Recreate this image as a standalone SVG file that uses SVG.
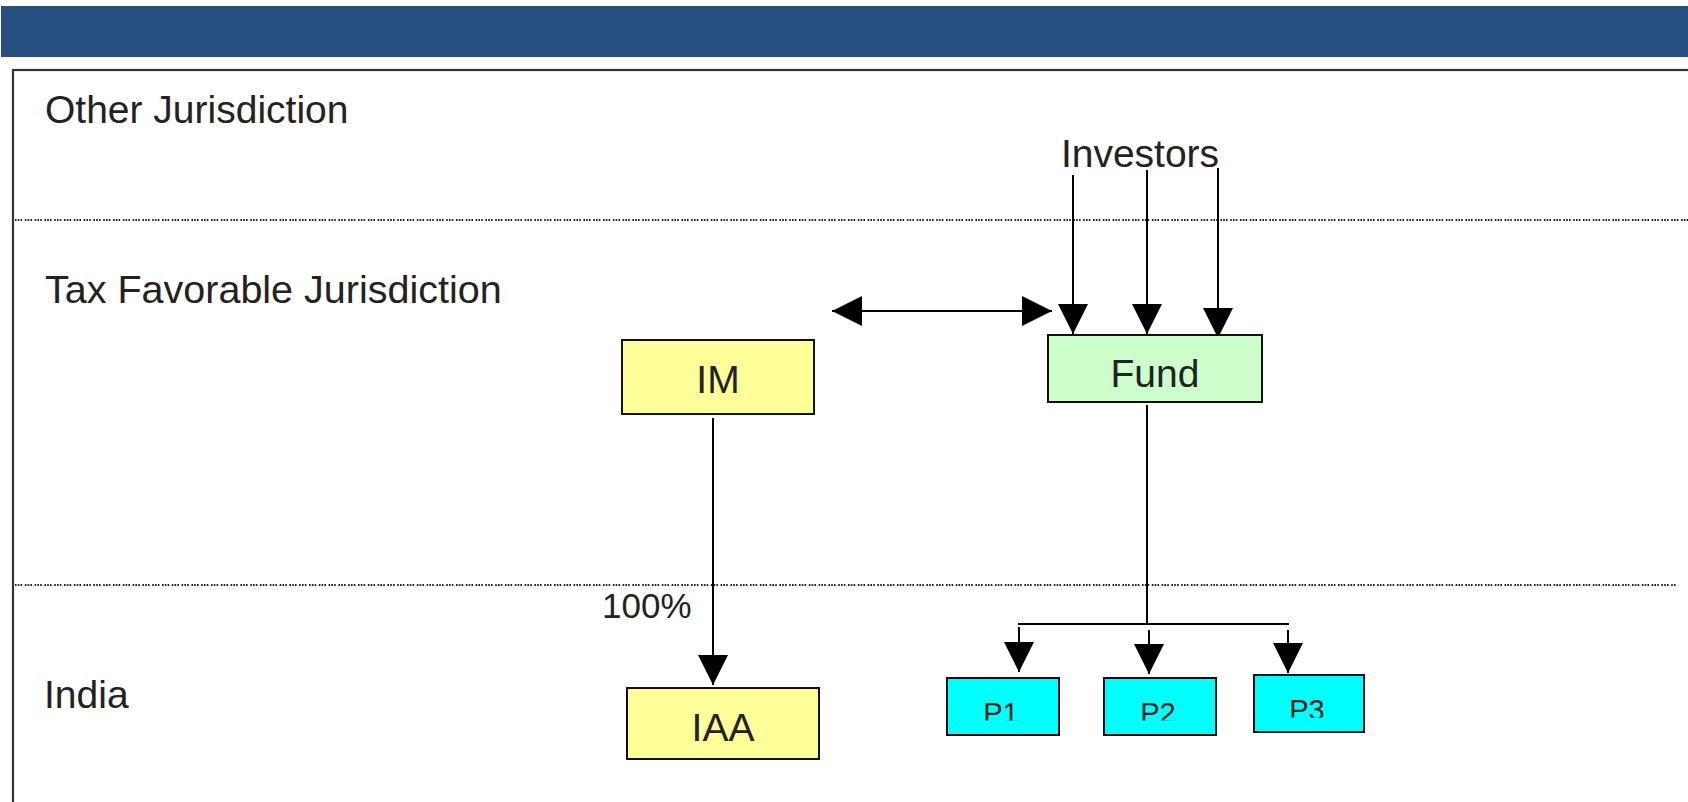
<svg xmlns="http://www.w3.org/2000/svg" width="1688" height="802" viewBox="0 0 1688 802">
<style>
.lbl{font-family:"Liberation Sans",Arial,sans-serif;font-size:39px;fill:#222}
.ctr{text-anchor:middle}
.box{stroke:#111;stroke-width:2}
.yel{fill:#FFFF99}
.grn{fill:#CCFFCC}
.cyan{fill:#00FFFF}
.conn{stroke:#000;stroke-width:2;fill:none}
.arr{marker-end:url(#ah)}
.dot{stroke:#222;stroke-width:2;stroke-dasharray:1.6 1.2 1.6 1.2 1.6 2.6;fill:none}
.plbl{font-family:"Liberation Sans",Arial,sans-serif;font-size:29px;fill:#222;text-anchor:middle}
</style>
<defs>
<marker id="ah" markerUnits="userSpaceOnUse" markerWidth="30" markerHeight="30" viewBox="0 0 30 30" refX="30" refY="15" orient="auto-start-reverse">
<path d="M0,0 L30,15 L0,30 z" fill="#000"/>
</marker>
<clipPath id="cp12"><rect x="900" y="676" width="360" height="44.5"/></clipPath>
<clipPath id="cp3"><rect x="1250" y="673" width="120" height="44.5"/></clipPath>
</defs>
<rect id="header" x="1" y="6" width="1690" height="51" fill="#274F80"/>
<rect id="frame" x="13" y="70" width="1700" height="800" fill="#fff" stroke="#333" stroke-width="2.2"/>
<g id="bands">
<line class="dot" x1="15" y1="220" x2="1688" y2="220"/>
<line class="dot" x1="15" y1="585" x2="1676" y2="585"/>
<text class="lbl" x="45" y="123">Other Jurisdiction</text>
<text class="lbl" x="45" y="303" style="font-size:39.5px">Tax Favorable Jurisdiction</text>
<text class="lbl" x="44" y="708">India</text>
</g>
<g id="connectors">
<line class="conn arr" x1="1073" y1="175" x2="1073" y2="334"/>
<line class="conn arr" x1="1147" y1="170" x2="1147" y2="334"/>
<line class="conn arr" x1="1218" y1="168" x2="1218" y2="338"/>
<line class="conn" x1="832" y1="311" x2="1052" y2="311" marker-start="url(#ah)" marker-end="url(#ah)"/>
<line class="conn arr" x1="713" y1="418" x2="713" y2="685"/>
<line class="conn" x1="1147" y1="405" x2="1147" y2="624"/>
<line class="conn" x1="1018" y1="624" x2="1289" y2="624"/>
<line class="conn arr" x1="1019" y1="627" x2="1019" y2="672"/>
<line class="conn arr" x1="1149" y1="630" x2="1149" y2="674"/>
<line class="conn arr" x1="1288" y1="630" x2="1288" y2="673"/>
<text class="lbl" x="602" y="618" style="font-size:35px">100%</text>
</g>
<g id="investors">
<text class="lbl ctr" x="1140" y="167">Investors</text>
</g>
<g id="im">
<rect class="box yel" x="622" y="340" width="192" height="74"/>
<text class="lbl ctr" x="718" y="393">IM</text>
</g>
<g id="fund">
<rect class="box grn" x="1048" y="335" width="214" height="67"/>
<text class="lbl ctr" x="1155" y="387">Fund</text>
</g>
<g id="iaa">
<rect class="box yel" x="627" y="688" width="192" height="71"/>
<text class="lbl ctr" x="723" y="741">IAA</text>
</g>
<g id="p1">
<rect class="box cyan" x="947" y="678" width="112" height="57"/>
<text class="plbl" x="1001" y="723" clip-path="url(#cp12)">P1</text>
</g>
<g id="p2">
<rect class="box cyan" x="1104" y="678" width="112" height="57"/>
<text class="plbl" x="1158" y="723" clip-path="url(#cp12)">P2</text>
</g>
<g id="p3">
<rect class="box cyan" x="1254" y="675" width="110" height="57"/>
<text class="plbl" x="1307" y="720" clip-path="url(#cp3)">P3</text>
</g>
</svg>
